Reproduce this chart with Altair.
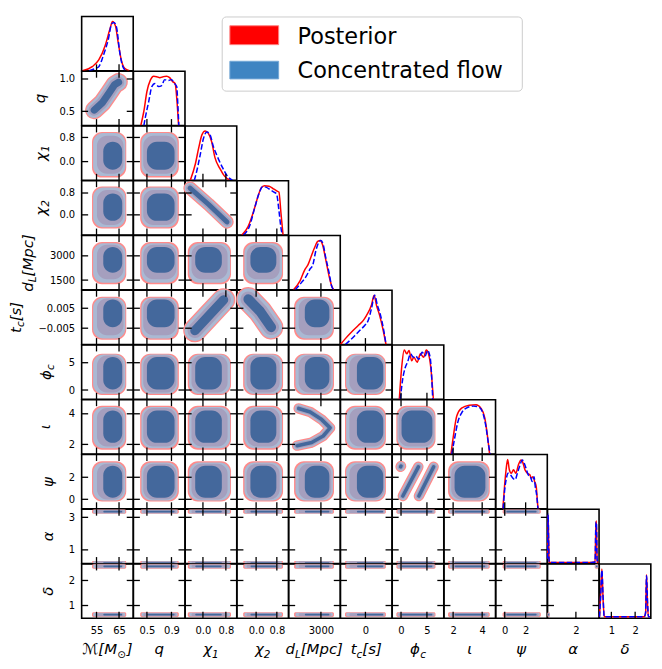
import altair as alt
import pandas as pd

# ---------------- data ----------------
PARAMS = ["M", "q", "chi1", "chi2", "dL", "tc", "phic", "iota", "psi", "alpha", "delta"]

DOMAIN = {
    "M": [48.4, 71.3], "q": [0.28, 1.12], "chi1": [-0.62, 1.18], "chi2": [-0.74, 1.25],
    "dL": [900, 4260], "tc": [-0.0132, 0.01405], "phic": [-1.7, 8.25], "iota": [1.37, 4.92],
    "psi": [-0.86, 4.07], "alpha": [0.16, 3.5], "delta": [0.49, 2.66],
}
XTICKS = {"M": [55, 65], "q": [0.5, 0.9], "chi1": [0.0, 0.8], "chi2": [0.0, 0.8], "dL": [3000],
          "tc": [0.0], "phic": [0, 5], "iota": [2, 4], "psi": [0, 2], "alpha": [2], "delta": [1, 2]}
YTICKS = {"q": [0.5, 1.0], "chi1": [0.0, 0.8], "chi2": [0.0, 0.8], "dL": [1500, 3000],
          "tc": [-0.005, 0.005], "phic": [0, 5], "iota": [2, 4], "psi": [0, 2], "alpha": [1, 3],
          "delta": [1, 2]}
XFMT = {"M": "d", "q": ".1f", "chi1": ".1f", "chi2": ".1f", "dL": "d", "tc": "d", "phic": "d",
        "iota": "d", "psi": "d", "alpha": "d", "delta": "d"}
YFMT = {"q": ".1f", "chi1": ".1f", "chi2": ".1f", "dL": "d", "tc": ".3f", "phic": "d",
        "iota": "d", "psi": "d", "alpha": "d", "delta": "d"}

# 1-D marginals (value, normalised density): posterior (red) and flow (blue)
HIST = {
    "M": dict(rx=[48.8, 53.1, 56.0, 58.9, 61.0, 62.1, 63.4, 64.6, 66.0, 67.5, 69.6],
              ry=[0, 0.085, 0.22, 0.52, 0.85, 1.0, 0.91, 0.58, 0.22, 0.05, 0],
              bx=[51.7, 54.6, 56.0, 58.1, 60.3, 61.7, 62.7, 63.9, 65.3, 66.7, 68.1],
              by=[0, 0.05, 0.085, 0.32, 0.65, 0.95, 0.98, 0.88, 0.38, 0.085, 0]),
    "q": dict(rx=[0.40, 0.45, 0.50, 0.556, 0.61, 0.66, 0.71, 0.766, 0.82, 0.87, 0.92, 0.96, 0.99, 1.016],
              ry=[0, 0.29, 0.69, 0.92, 1.0, 0.99, 0.97, 0.99, 1.0, 0.97, 0.89, 0.85, 0.49, 0],
              bx=[0.45, 0.478, 0.53, 0.58, 0.63, 0.69, 0.74, 0.79, 0.84, 0.90, 0.95, 0.985, 1.005, 1.02],
              by=[0, 0.19, 0.49, 0.79, 0.85, 0.79, 0.81, 0.93, 0.91, 0.93, 0.85, 0.79, 0.39, 0]),
    "chi1": dict(rx=[-0.44, -0.265, -0.15, -0.036, 0.077, 0.19, 0.305, 0.42, 0.59, 0.76, 0.96],
                 ry=[0, 0.33, 0.65, 0.92, 1.0, 0.95, 0.78, 0.46, 0.24, 0.08, 0],
                 bx=[-0.3, -0.21, -0.094, 0.02, 0.135, 0.25, 0.36, 0.49, 0.69, 0.86, 1.03],
                 by=[0, 0.2, 0.52, 0.85, 0.98, 0.92, 0.69, 0.5, 0.25, 0.08, 0]),
    "chi2": dict(rx=[-0.55, -0.31, -0.12, 0.066, 0.19, 0.32, 0.50, 0.69, 0.81, 0.88, 0.96, 1.04],
                 ry=[0, 0.17, 0.44, 0.77, 0.95, 1.0, 0.99, 0.93, 0.89, 0.87, 0.44, 0],
                 bx=[-0.49, -0.24, -0.06, 0.13, 0.25, 0.38, 0.56, 0.69, 0.79, 0.88, 0.96, 1.01],
                 by=[0, 0.2, 0.54, 0.87, 0.98, 0.97, 0.91, 0.87, 0.83, 0.5, 0.14, 0]),
    "dL": dict(rx=[1215, 1638, 1953, 2161, 2370, 2583, 2792, 2962, 3107, 3315, 3530, 3737, 3845],
               ry=[0, 0.18, 0.41, 0.51, 0.68, 0.85, 0.98, 1.0, 0.91, 0.61, 0.28, 0.05, 0],
               bx=[1322, 1740, 2054, 2268, 2476, 2684, 2899, 3000, 3151, 3315, 3530, 3693, 3845],
               by=[0, 0.15, 0.28, 0.41, 0.51, 0.81, 0.98, 1.0, 0.91, 0.65, 0.35, 0.08, 0]),
    "tc": dict(rx=[-0.0132, -0.0106, -0.0072, -0.0037, -0.0011, 0.0006, 0.0032, 0.0046, 0.0058, 0.0075, 0.0092, 0.0109],
               ry=[0, 0.12, 0.26, 0.39, 0.49, 0.59, 0.80, 1.0, 0.80, 0.59, 0.32, 0],
               bx=[-0.0106, -0.0080, -0.0054, -0.0029, -0.0003, 0.0015, 0.0032, 0.0049, 0.0063, 0.0080, 0.0098, 0.0109],
               by=[0, 0.09, 0.19, 0.29, 0.39, 0.49, 0.73, 1.0, 0.80, 0.59, 0.26, 0]),
    "phic": dict(rx=[-0.33, 0.12, 0.61, 1.11, 1.55, 2.05, 2.48, 3.12, 3.74, 4.36, 4.87, 5.3, 5.75, 6.24],
                 ry=[0, 0.64, 1.0, 0.92, 0.99, 0.78, 0.85, 0.75, 0.92, 0.85, 1.0, 0.92, 0.64, 0],
                 bx=[-0.14, 0.31, 0.80, 1.25, 1.86, 2.37, 2.8, 3.42, 4.06, 4.68, 5.11, 5.62, 6.12],
                 by=[0, 0.40, 0.64, 0.75, 0.92, 0.85, 0.88, 0.81, 0.95, 0.88, 0.99, 0.85, 0]),
    "iota": dict(rx=[1.85, 2.05, 2.25, 2.58, 3.11, 3.58, 3.91, 4.18, 4.38, 4.51],
                 ry=[0, 0.43, 0.77, 0.93, 0.99, 1.0, 0.93, 0.73, 0.33, 0],
                 bx=[1.91, 2.11, 2.31, 2.58, 2.91, 3.38, 3.78, 4.05, 4.25, 4.45, 4.55],
                 by=[0, 0.33, 0.63, 0.83, 0.93, 0.97, 0.95, 0.83, 0.57, 0.17, 0]),
    "psi": dict(rx=[-0.18, -0.02, 0.13, 0.28, 0.44, 0.63, 0.84, 1.06, 1.31, 1.56, 1.71, 1.93, 2.17, 2.4, 2.55, 2.7, 2.86, 3.01, 3.17, 3.23],
                ry=[0, 0.45, 0.79, 1.0, 0.79, 0.72, 0.79, 0.72, 0.89, 0.99, 0.95, 0.79, 0.72, 0.69, 0.62, 0.65, 0.55, 0.45, 0.05, 0],
                bx=[-0.15, 0.0, 0.16, 0.31, 0.53, 0.78, 1.0, 1.21, 1.47, 1.68, 1.87, 2.08, 2.24, 2.45, 2.64, 2.8, 2.92, 3.07, 3.17],
                by=[0, 0.39, 0.62, 0.72, 0.69, 0.62, 0.59, 0.72, 0.89, 0.99, 0.92, 0.79, 0.69, 0.65, 0.55, 0.65, 0.45, 0.25, 0]),
    "alpha": dict(rx=[0.17, 0.2, 0.23, 0.27, 0.32, 1.0, 2.0, 3.0, 3.24, 3.3, 3.33, 3.37, 3.42],
                  ry=[0.1, 0.98, 0.55, 0.03, 0.02, 0.02, 0.02, 0.02, 0.03, 0.8, 0.86, 0.1, 0.0],
                  bx=[0.17, 0.2, 0.23, 0.27, 0.32, 1.0, 2.0, 3.0, 3.24, 3.3, 3.33, 3.37, 3.42],
                  by=[0.1, 1.0, 0.5, 0.03, 0.02, 0.02, 0.02, 0.02, 0.03, 0.84, 0.82, 0.1, 0.0]),
    "delta": dict(rx=[0.5, 0.55, 0.6, 0.65, 0.7, 1.0, 2.0, 2.38, 2.44, 2.48, 2.52, 2.56, 2.62],
                  ry=[0.03, 0.5, 1.0, 0.4, 0.03, 0.03, 0.03, 0.03, 0.1, 0.88, 0.3, 0.03, 0.03],
                  bx=[0.5, 0.55, 0.6, 0.65, 0.7, 1.0, 2.0, 2.38, 2.44, 2.48, 2.52, 2.56, 2.62],
                  by=[0.03, 0.45, 0.97, 0.45, 0.03, 0.03, 0.03, 0.03, 0.12, 0.86, 0.35, 0.03, 0.03]),
}

# 2-D credible extents per parameter: [posterior outer, flow outer, mid, core]
INT = {
    "M": [[53.0, 68.2], [53.5, 67.8], [55.2, 67.0], [58.0, 66.4]],
    "q": [[0.39, 1.02], [0.41, 1.0], [0.44, 0.98], [0.5, 0.95]],
    "chi1": [[-0.53, 0.98], [-0.48, 0.95], [-0.4, 0.86], [-0.27, 0.66]],
    "chi2": [[-0.5, 1.04], [-0.45, 1.0], [-0.37, 0.91], [-0.22, 0.78]],
    "dL": [[1250, 3850], [1340, 3780], [1550, 3680], [1950, 3550]],
    "tc": [[-0.0108, 0.0108], [-0.0102, 0.0103], [-0.0085, 0.0099], [-0.0045, 0.0094]],
    "phic": [[-0.9, 6.65], [-0.7, 6.5], [-0.45, 6.32], [0.1, 6.05]],
    "iota": [[1.65, 4.52], [1.75, 4.45], [1.87, 4.37], [2.1, 4.22]],
    "psi": [[-0.2, 3.45], [-0.1, 3.35], [-0.02, 3.22], [0.15, 3.05]],
}
BANDS = {
    "alpha": [[[0.16, 0.31], [0.17, 0.30], [0.19, 0.28], [0.21, 0.26]],
              [[3.22, 3.48], [3.24, 3.46], [3.27, 3.43], [3.30, 3.40]]],
    "delta": [[[0.54, 0.73], [0.56, 0.71], [0.58, 0.69], [0.60, 0.67]],
              [[2.47, 2.65], [2.49, 2.64], [2.51, 2.62], [2.53, 2.60]]],
}
JOINT = {("delta", "alpha"): [(0, 0), (1, 1)]}

# strongly correlated panels: ridge lines of the contours
SHAPE_PTS = {
    ("q", "M"): [[(54.0, 0.52), (57.5, 0.63), (60.5, 0.78), (63.0, 0.91), (64.8, 0.95)]],
    ("chi2", "chi1"): [[(-0.45, 0.98), (0.2, 0.38), (0.84, -0.26)]],
    ("iota", "dL"): [[(1550, 4.35), (2300, 4.12), (3050, 3.62), (3600, 3.08), (3150, 2.55), (2400, 2.12), (1450, 1.92)]],
    ("psi", "phic"): [[(0.35, 0.3), (3.35, 2.95)], [(3.45, 0.3), (6.3, 2.95)], [(-0.08, 2.95), (0.0, 3.02)]],
    ("tc", "chi1"): [[(-0.28, -0.0062), (0.2, 0.0012), (0.72, 0.0092)]],
    ("tc", "chi2"): [[(-0.3, 0.0095), (0.15, 0.0035), (0.58, -0.0045)]],
}

TITLES = {
    "M": [("ℳ[M", 0), ("⊙", 1), ("]", 0)], "q": [("q", 0)], "chi1": [("χ", 0), ("1", 1)],
    "chi2": [("χ", 0), ("2", 1)], "dL": [("d", 0), ("L", 1), ("[Mpc]", 0)],
    "tc": [("t", 0), ("c", 1), ("[s]", 0)], "phic": [("ϕ", 0), ("c", 1)], "iota": [("ι", 0)],
    "psi": [("ψ", 0)], "alpha": [("α", 0)], "delta": [("δ", 0)],
}
LEGEND_LABELS = ["Posterior", "Concentrated flow"]

# ---------------- styles / layout ----------------
N = len(PARAMS)
W, H = 51.8, 54.6
TL, TW = 6.5, 1.3
TITLE_FS, SUB_FS = 15, 10.5
XT_OFF = 36
LEVEL_COLORS = ["#ff8a8a", "#aab9d3", "#a59fbe", "#44689c"]
SHAPE_W = {("q", "M"): 16, ("chi2", "chi1"): 11, ("iota", "dL"): 8, ("psi", "phic"): 8,
           ("tc", "chi1"): 21, ("tc", "chi2"): 22}
YT_OFF = {"q": -40.6, "chi1": -40, "chi2": -40, "dL": -53, "tc": -65, "phic": -35,
          "iota": -35.6, "psi": -33, "alpha": -33, "delta": -33}
CW = {"q": 0.635, "χ": 0.6, "1": 0.636, "2": 0.636, "d": 0.635, "L": 0.557, "[": 0.39,
      "M": 0.9, "p": 0.635, "c": 0.55, "]": 0.39, "t": 0.392, "s": 0.521, "ϕ": 0.68,
      "ι": 0.33, "ψ": 0.72, "α": 0.66, "δ": 0.61, "ℳ": 1.05, "⊙": 0.9}
ONE = pd.DataFrame({"k": [0]})
FONT = "DejaVu Sans"


def sc(p):
    return alt.Scale(domain=DOMAIN[p], nice=False, zero=False)


def x_enc(field, p, show):
    if show:
        ax = alt.Axis(values=XTICKS[p], format=XFMT[p], ticks=False, tickSize=0, domain=False,
                      grid=False, labelPadding=7, labelFlush=False, labelOverlap=False, title=None)
        return alt.X(field, type="quantitative", scale=sc(p), axis=ax)
    return alt.X(field, type="quantitative", scale=sc(p), axis=None)


def y_enc(field, p, show):
    if show:
        ax = alt.Axis(values=YTICKS[p], format=YFMT[p], ticks=False, tickSize=0, domain=False,
                      grid=False, labelPadding=7, labelFlush=False, labelOverlap=False, title=None)
        return alt.Y(field, type="quantitative", scale=sc(p), axis=ax)
    return alt.Y(field, type="quantitative", scale=sc(p), axis=None)


def text_layer(txt, x, y, size, angle=0, dx=0, dy=0, italic=True, align="left",
               baseline="alphabetic", color="black"):
    kw = dict(text=txt, fontSize=size, font=FONT, align=align, baseline=baseline,
              dx=dx, dy=dy, color=color)
    if italic:
        kw["fontStyle"] = "italic"
    if angle:
        kw["angle"] = angle
    return alt.Chart(ONE).mark_text(**kw).encode(x=alt.value(x), y=alt.value(y))


def title_layers(p, x, y, angle):
    segs = TITLES[p]
    widths = [sum(CW.get(ch, 0.6) for ch in s) * (SUB_FS if sub else TITLE_FS) for s, sub in segs]
    cur = -sum(widths) / 2
    out = []
    for (s, sub), w in zip(segs, widths):
        out.append(text_layer(s, x, y, SUB_FS if sub else TITLE_FS, angle=angle, dx=cur,
                              dy=(3.5 if sub else 0)))
        cur += w
    return out


def xtick_layers(px, X, top=True):
    df = pd.DataFrame({"t": XTICKS[px]})
    out = [alt.Chart(df).mark_rule(color="black", strokeWidth=TW).encode(
        x=X("t"), y=alt.value(H), y2=alt.value(H - TL))]
    if top:
        out.append(alt.Chart(df).mark_rule(color="black", strokeWidth=TW).encode(
            x=X("t"), y=alt.value(0), y2=alt.value(TL)))
    return out


def ytick_layers(py, Y):
    df = pd.DataFrame({"t": YTICKS[py]})
    return [alt.Chart(df).mark_rule(color="black", strokeWidth=TW).encode(
                y=Y("t"), x=alt.value(0), x2=alt.value(TL)),
            alt.Chart(df).mark_rule(color="black", strokeWidth=TW).encode(
                y=Y("t"), x=alt.value(W), x2=alt.value(W - TL))]


def extents(p):
    return BANDS[p] if p in BANDS else [INT[p]]


def panel2d(i, j):
    py, px = PARAMS[i], PARAMS[j]
    showx, showy = (i == N - 1), (j == 0)
    X = lambda f: x_enc(f, px, showx)
    Y = lambda f: y_enc(f, py, showy)
    layers = []
    key = (py, px)
    if key in SHAPE_PTS:
        w = SHAPE_W[key]
        widths = [w + 2.5, w, w * 0.72, w * 0.45]
        for lev in range(4):
            for poly in SHAPE_PTS[key]:
                df = pd.DataFrame({"x": [a for a, b in poly], "y": [b for a, b in poly],
                                   "k": list(range(len(poly)))})
                layers.append(alt.Chart(df).mark_line(
                    color=LEVEL_COLORS[lev], strokeWidth=widths[lev], strokeCap="round",
                    strokeJoin="round").encode(x=X("x"), y=Y("y"), order=alt.Order("k:Q")))
    else:
        xe, ye = extents(px), extents(py)
        if key in JOINT:
            combos = JOINT[key]
        else:
            combos = [(a, b) for a in range(len(xe)) for b in range(len(ye))]
        rows = []
        for lev in range(4):
            for a, b in combos:
                rows.append(dict(x=xe[a][lev][0], x2=xe[a][lev][1], y=ye[b][lev][0],
                                 y2=ye[b][lev][1], c=LEVEL_COLORS[lev]))
        cr = 1.5 if (px in BANDS or py in BANDS) else 10
        layers.append(alt.Chart(pd.DataFrame(rows)).mark_rect(cornerRadius=cr).encode(
            x=X("x"), x2=alt.X2("x2"), y=Y("y"), y2=alt.Y2("y2"),
            color=alt.Color("c:N", scale=None)))
    layers += xtick_layers(px, X)
    layers += ytick_layers(py, Y)
    if showy:
        layers += title_layers(py, YT_OFF[py] + 4, H / 2, 270)
    if showx:
        layers += title_layers(px, W / 2, H + XT_OFF, 0)
    return alt.layer(*layers).properties(width=W, height=H)


def panel_hist(i):
    p = PARAMS[i]
    showx = (i == N - 1)
    X = lambda f: x_enc(f, p, showx)
    Yh = alt.Y("d", type="quantitative", scale=alt.Scale(domain=[0, 1.1], nice=False), axis=None)
    h = HIST[p]
    red = pd.DataFrame({"x": h["rx"], "d": h["ry"]})
    blue = pd.DataFrame({"x": h["bx"], "d": h["by"]})
    layers = [
        alt.Chart(red).mark_line(color="#ff0000", strokeWidth=1.5, interpolate="monotone").encode(x=X("x"), y=Yh),
        alt.Chart(blue).mark_line(color="#0000ff", strokeWidth=1.5, strokeDash=[5.5, 2.4],
                                  interpolate="monotone").encode(x=X("x"), y=Yh),
    ]
    layers += xtick_layers(p, X, top=False)
    if showx:
        layers += title_layers(p, W / 2, H + XT_OFF, 0)
    return alt.layer(*layers).properties(width=W, height=H)


def empty_panel(with_legend=False):
    lay = [alt.Chart(ONE).mark_rect(opacity=0).encode(
        x=alt.value(10), x2=alt.value(11), y=alt.value(10), y2=alt.value(11))]
    if with_legend:
        x0 = 141 - W  # legend box starts 141 px right of the grid's left edge
        lay += [
            alt.Chart(ONE).mark_rect(fill="white", stroke="#cccccc", strokeWidth=1, cornerRadius=4).encode(
                x=alt.value(x0), x2=alt.value(x0 + 301.5), y=alt.value(0.5), y2=alt.value(75)),
            alt.Chart(ONE).mark_rect(fill="#ff0000", stroke="#ff7f7f", strokeWidth=1).encode(
                x=alt.value(x0 + 7.7), x2=alt.value(x0 + 56.7), y=alt.value(9.3), y2=alt.value(28.3)),
            alt.Chart(ONE).mark_rect(fill="#3f85c2", stroke="#74a8d6", strokeWidth=1).encode(
                x=alt.value(x0 + 7.7), x2=alt.value(x0 + 56.7), y=alt.value(45), y2=alt.value(62.7)),
            text_layer(LEGEND_LABELS[0], x0 + 75.7, 27.7, 22.5, italic=False),
            text_layer(LEGEND_LABELS[1], x0 + 75.7, 62, 22.5, italic=False),
        ]
    return alt.layer(*lay).properties(width=W, height=H,
                                      view=alt.ViewBackground(stroke="transparent"))


cells = []
for i in range(N):
    for j in range(N):
        if j < i:
            cells.append(panel2d(i, j))
        elif j == i:
            cells.append(panel_hist(i))
        else:
            cells.append(empty_panel(with_legend=(i == 0 and j == 1)))

chart = alt.concat(*cells, columns=N, spacing=0, bounds="flush").resolve_scale(
    x="independent", y="independent").properties(
    padding={"left": 0, "top": 6, "right": 0, "bottom": 0}, background="white"
).configure_view(stroke="black", strokeWidth=1.6).configure_axis(
    labelFont=FONT, labelFontSize=10, labelColor="black")

chart.save("out.html", embed_options={"renderer": "svg", "actions": False})
